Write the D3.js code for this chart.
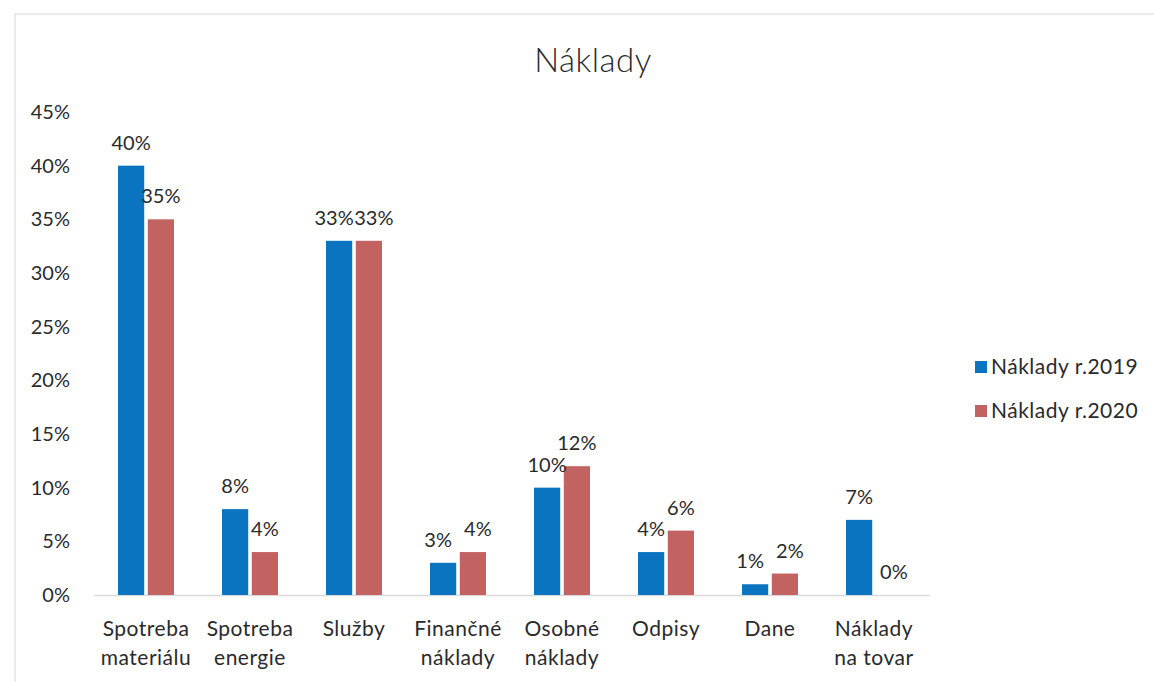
<!DOCTYPE html>
<html>
<head>
  <meta charset="UTF-8">
  <style>
    body { margin: 0; background: #fff; }
    text { font-family: Lato, "Open Sans", sans-serif; fill: #2a2a2a; }
  </style>
</head>
<body>
<svg></svg>
<script src="https://d3js.org/d3.v7.min.js"></script>
<script>

let width = 1154, height = 682;

// data
let categories = ["Spotreba materiálu", "Spotreba energie", "Služby", "Finančné náklady",
                  "Osobné náklady", "Odpisy", "Dane", "Náklady na tovar"];
let catLines = [["Spotreba", "materiálu"], ["Spotreba", "energie"], ["Služby"], ["Finančné", "náklady"],
                ["Osobné", "náklady"], ["Odpisy"], ["Dane"], ["Náklady", "na tovar"]];
let series = ["Náklady r.2019", "Náklady r.2020"];
let values2019 = [40, 8, 33, 3, 10, 4, 1, 7];
let values2020 = [35, 4, 33, 4, 12, 6, 2, 0];
let yTicks = [0, 5, 10, 15, 20, 25, 30, 35, 40, 45];
let colors = ["#0b74c0", "#c26261"];

let svg = d3.select("svg")
    .attr("width", width)
    .attr("height", height);

// chart frame
svg.append("rect")
    .attr("x", 15).attr("y", 14)
    .attr("width", width - 14).attr("height", height + 10)
    .attr("fill", "none")
    .attr("stroke", "#e4e4ea")
    .attr("stroke-width", 1.5);

svg.append("text")
    .attr("x", 593).attr("y", 72)
    .attr("text-anchor", "middle")
    .attr("font-size", 33)
    .attr("font-weight", 300)
    .attr("letter-spacing", 0.5)
    .text("Náklady");

let x = d3.scaleBand()
    .domain(categories)
    .range([94, 926])
    .paddingInner(0)
    .paddingOuter(0);

let x1 = d3.scaleBand()
    .domain(series)
    .range([x.bandwidth() / 2 - 28, x.bandwidth() / 2 + 28])
    .paddingInner(0.12);

let y = d3.scaleLinear()
    .domain([0, 45])
    .range([595, 112]);

// y axis labels
svg.append("g")
    .selectAll("text")
    .data(yTicks)
    .enter()
    .append("text")
    .attr("x", 70)
    .attr("y", d => y(d) + 7)
    .attr("text-anchor", "end")
    .attr("font-size", 20)
    .text(d => d + "%");

// baseline
svg.append("line")
    .attr("x1", 94).attr("x2", 930)
    .attr("y1", y(0) + 0.5).attr("y2", y(0) + 0.5)
    .attr("stroke", "#d9d9d9")
    .attr("stroke-width", 1.5);

let rows = categories.map((c, i) => ({cat: c, vals: [values2019[i], values2020[i]]}));

let groups = svg.append("g")
    .selectAll("g")
    .data(rows)
    .enter()
    .append("g")
    .attr("transform", d => "translate(" + x(d.cat) + ",0)");

groups.selectAll("rect")
    .data(d => d.vals.map((v, j) => ({s: series[j], v: v, j: j})))
    .enter()
    .append("rect")
    .attr("x", d => x1(d.s))
    .attr("width", x1.bandwidth())
    .attr("y", d => y(d.v))
    .attr("height", d => y(0) - y(d.v))
    .attr("fill", d => colors[d.j]);

// labels: push apart a little when both sit at the same height
groups.selectAll("text.lbl")
    .data(d => d.vals.map((v, j) => ({s: series[j], v: v, j: j, same: Math.abs(d.vals[0] - d.vals[1]) < 1.5})))
    .enter()
    .append("text")
    .attr("class", "lbl")
    .attr("x", d => {
        let cx = x1(d.s) + x1.bandwidth() / 2;
        if (d.v === 0) return cx + 5;
        if (d.same) return cx + (d.j === 0 ? -5 : 5);
        return cx;
    })
    .attr("y", d => d.v === 0 ? y(0) - 16 : y(d.v) - 16)
    .attr("text-anchor", "middle")
    .attr("font-size", 20)
    .text(d => d.v + "%");

// category labels
groups.selectAll("text.cat")
    .data(d => catLines[categories.indexOf(d.cat)])
    .enter()
    .append("text")
    .attr("class", "cat")
    .attr("x", x.bandwidth() / 2)
    .attr("y", (d, i) => 636 + i * 29)
    .attr("text-anchor", "middle")
    .attr("font-size", 21)
    .attr("letter-spacing", 0.5)
    .text(d => d);

// legend
let legend = svg.append("g")
    .selectAll("g")
    .data(series)
    .enter()
    .append("g")
    .attr("transform", (d, i) => "translate(975," + (367 + i * 44) + ")");

legend.append("rect")
    .attr("x", 0).attr("y", -6)
    .attr("width", 12).attr("height", 12)
    .attr("fill", (d, i) => colors[i]);

legend.append("text")
    .attr("x", 16).attr("y", 7)
    .attr("font-size", 21)
    .attr("letter-spacing", 0.5)
    .text(d => d);

</script>
</body>
</html>
